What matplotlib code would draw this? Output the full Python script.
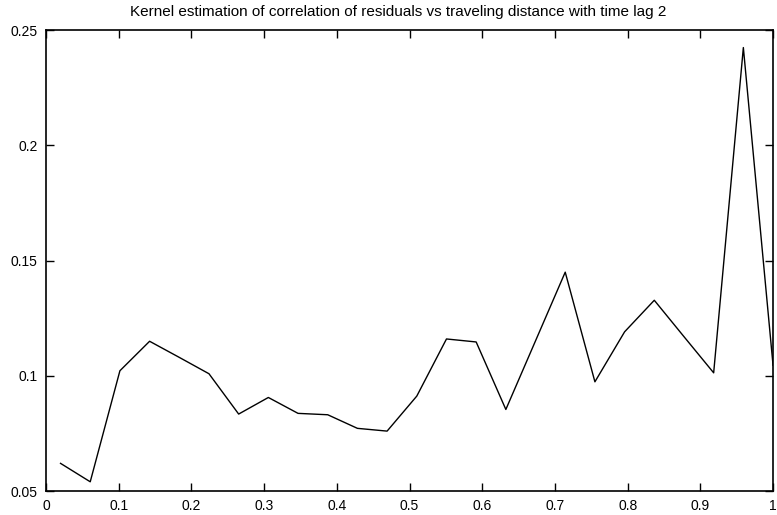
import numpy as np
import matplotlib
matplotlib.use("Agg")
from matplotlib import pyplot as plt

plt.rcParams['font.family'] = ['Liberation Sans', 'DejaVu Sans']

# распределение по дистанции: 25 узлов от 0.02 до 1
dist = np.linspace(0.02, 1.0, 25)
corr = [0.062, 0.054, 0.1022, 0.115, 0.108, 0.1009, 0.0834, 0.0906, 0.0837,
        0.0831, 0.0772, 0.0760, 0.0912, 0.1160, 0.1147, 0.0854, 0.1152, 0.1450,
        0.0974, 0.1191, 0.1328, 0.1170, 0.1013, 0.2425, 0.1046]

xticks = [0, 0.1, 0.2, 0.3, 0.4, 0.5, 0.6, 0.7, 0.8, 0.9, 1]
xlabels = ['0', '0.1', '0.2', '0.3', '0.4', '0.5', '0.6', '0.7', '0.8', '0.9', '1']
yticks = [0.05, 0.1, 0.15, 0.2, 0.25]
ylabels = ['0.05', '0.1', '0.15', '0.2', '0.25']

fig = plt.figure(figsize=(7.77, 5.15), dpi=100)
ax = fig.add_axes([0.0592, 0.0466, 0.9357, 0.8946])

ax.plot(dist, corr, color='black', linewidth=1.0)
ax.set_xlim(0, 1)
ax.set_ylim(0.05, 0.25)
ax.set_xticks(xticks)
ax.set_xticklabels(xlabels)
ax.set_yticks(yticks)
ax.set_yticklabels(ylabels)
ax.tick_params(direction='in', length=6, width=1, top=True, right=True,
               labelsize=10, pad=6)
for s in ax.spines.values():
    s.set_linewidth(1.2)

fig.text(398 / 777, 1 - 12 / 515, 'Kernel estimation of correlation of residuals vs traveling distance with time lag 2',
         ha='center', va='center', fontsize=11)

fig.savefig('out.png', dpi=100)
